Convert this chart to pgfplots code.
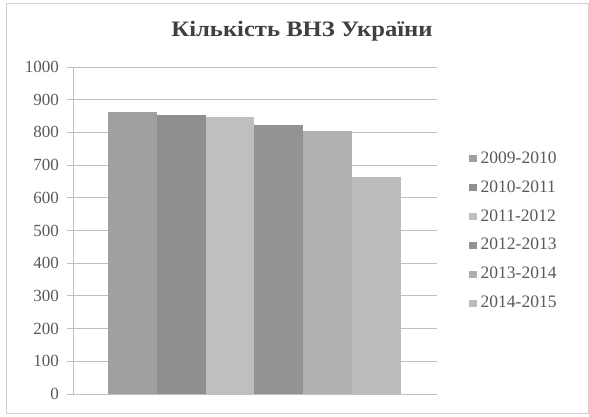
\documentclass[border=0pt]{standalone}
\usepackage{pgfplots}
\pgfplotsset{compat=1.18}
\usepackage{fontspec}
\setmainfont{Liberation Serif}
\definecolor{c1}{HTML}{A0A0A0}
\definecolor{c2}{HTML}{8F8F8F}
\definecolor{c3}{HTML}{BFBFBF}
\definecolor{c4}{HTML}{939393}
\definecolor{c5}{HTML}{B0B0B0}
\definecolor{c6}{HTML}{BCBCBC}
\definecolor{gridc}{HTML}{BFBFBF}
\definecolor{framec}{HTML}{D0D0D0}
\definecolor{tickc}{HTML}{595959}
\definecolor{titlec}{HTML}{404040}
\begin{document}
\begin{tikzpicture}
\useasboundingbox (0pt,0pt) rectangle (589pt,-416pt);
\draw[color=framec, line width=1pt] (6pt,-3pt) rectangle (588.5pt,-413pt);
\node[font=\fontsize{22}{22}\selectfont\bfseries, text=titlec, xscale=1.12] at (302pt,-31pt) {Кількість ВНЗ України};
\begin{axis}[
  at={(73pt,-394pt)}, anchor=south west,
  width=364pt, height=327pt, scale only axis,
  xmin=0, xmax=364, ymin=0, ymax=1000,
  ytick={0,100,...,1000},
  xtick=\empty,
  axis x line*=bottom, axis y line*=left,
  ymajorgrids, grid style={gridc, line width=0.9pt},
  axis line style={gridc, line width=0.9pt},
  y tick style={gridc, line width=0.9pt},
  major tick length=6pt,
  tick align=outside,
  yticklabel style={font=\fontsize{17}{17}\selectfont, text=tickc, inner sep=0pt, xshift=-8pt},
  /pgf/number format/assume math mode=true,
  /pgf/number format/1000 sep={},
  ybar, bar width=48.8, bar shift=0pt,
  legend cell align=left,
  legend image code/.code={\fill[#1,draw=none] (0pt,-3.5pt) rectangle (7.5pt,3.5pt);},
  legend style={at={(1.0797,0.749)}, anchor=north west, draw=none, fill=none,
    font=\fontsize{17.5}{17.5}\selectfont, text=tickc,
    nodes={inner sep=0pt, text height=12pt, text depth=3pt},
    row sep=13.9pt,
    /tikz/every odd column/.append style={column sep=4pt}},
]
\addplot[fill=c1, draw=none] coordinates {(59.4,861)};
\addplot[fill=c2, draw=none] coordinates {(108.2,854)};
\addplot[fill=c3, draw=none] coordinates {(157.0,846)};
\addplot[fill=c4, draw=none] coordinates {(205.8,823)};
\addplot[fill=c5, draw=none] coordinates {(254.6,803)};
\addplot[fill=c6, draw=none] coordinates {(303.4,664)};
\legend{2009-2010,2010-2011,2011-2012,2012-2013,2013-2014,2014-2015}
\end{axis}
\end{tikzpicture}
\end{document}
